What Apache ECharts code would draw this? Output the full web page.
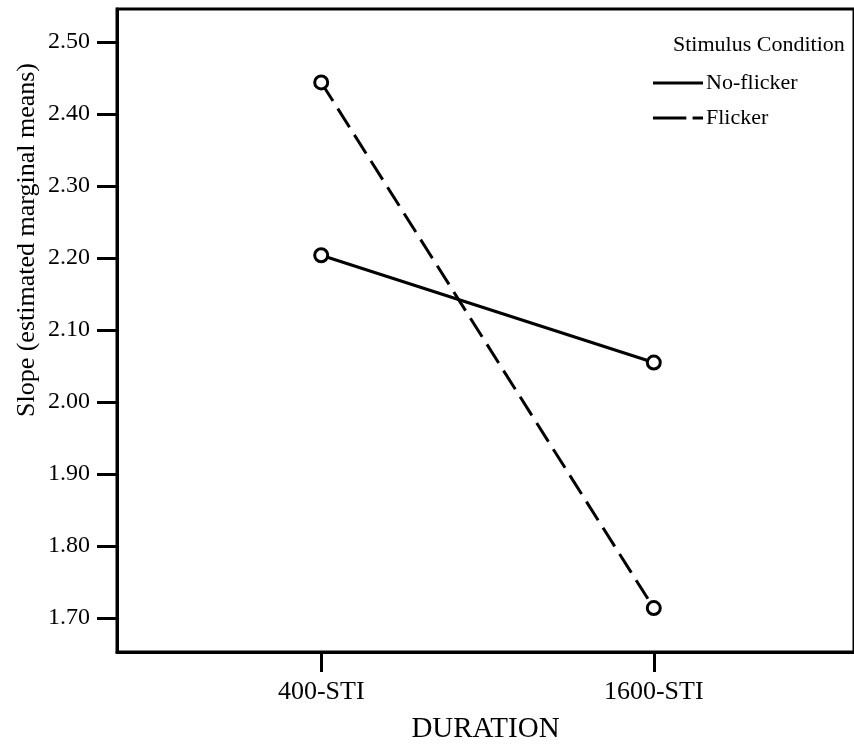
<!DOCTYPE html>
<html>
<head>
<meta charset="utf-8">
<script src="https://cdn.jsdelivr.net/npm/echarts@6/dist/echarts.min.js"></script>
<style>html,body{margin:0;padding:0;background:#fff;}#c{width:854px;height:751px;}</style>
</head>
<body>
<div id="c"></div>
<script>
var categories = ['400-STI', '1600-STI'];
var noFlicker = [2.204, 2.055];
var flicker = [2.444, 1.714];
var yTicks = [1.7, 1.8, 1.9, 2.0, 2.1, 2.2, 2.3, 2.4, 2.5];
var seriesNames = ['No-flicker', 'Flicker'];

var FONT = 'Liberation Serif';
function pts(arr) { return arr.map(function (v, i) { return [i, v]; }); }

var chart = echarts.init(document.getElementById('c'));
chart.setOption({
  backgroundColor: '#fff',
  animation: false,
  title: {
    text: 'Stimulus Condition',
    left: 668, top: 29,
    textStyle: { fontFamily: FONT, fontSize: 22, fontWeight: 'normal', color: '#000' }
  },
  legend: {
    orient: 'vertical',
    left: 653, top: 71, padding: 0,
    itemWidth: 50, itemHeight: 4, itemGap: 11,
    textStyle: { fontFamily: FONT, fontSize: 22, color: '#000', lineHeight: 24, padding: [0, 0, 0, -2] },
    data: [
      { name: seriesNames[0], icon: 'path://M0,0H50V3H0Z' },
      { name: seriesNames[1], icon: 'path://M0,0H32V3H0Z M38,0H48V3H38Z' }
    ],
    itemStyle: { color: '#000', borderWidth: 0 }
  },
  grid: {
    left: 117, top: 9, bottom: 99, right: -3,
    show: true, borderColor: '#000', borderWidth: 3, backgroundColor: '#fff'
  },
  xAxis: {
    type: 'value',
    min: -0.614, max: 1.602,
    name: 'DURATION',
    nameLocation: 'middle', nameGap: 63,
    nameTextStyle: { fontFamily: FONT, fontSize: 29, color: '#000' },
    axisLine: { show: true, onZero: false, lineStyle: { color: '#000', width: 3 } },
    axisTick: { show: true, customValues: [0, 1], length: 20, lineStyle: { color: '#000', width: 3 } },
    axisLabel: {
      customValues: [0, 1], margin: 27,
      formatter: function (v) { return categories[Math.round(v)]; },
      fontFamily: FONT, fontSize: 26, color: '#000'
    },
    splitLine: { show: false }
  },
  yAxis: {
    type: 'value',
    min: 1.653, max: 2.546,
    axisLine: { show: true, onZero: false, lineStyle: { color: '#000', width: 3 } },
    axisTick: { show: true, customValues: yTicks, length: 20, lineStyle: { color: '#000', width: 3 } },
    axisLabel: {
      customValues: yTicks, margin: 27,
      formatter: function (v) { return v.toFixed(2); },
      fontFamily: FONT, fontSize: 24, color: '#000'
    },
    splitLine: { show: false }
  },
  graphic: [{
    type: 'text',
    x: 27, y: 240,
    rotation: Math.PI / 2,
    style: {
      text: 'Slope (estimated marginal means)',
      fontFamily: FONT, fontSize: 26, fill: '#000',
      align: 'center', verticalAlign: 'middle'
    }
  }],
  series: [
    {
      name: seriesNames[0], type: 'line', data: pts(noFlicker),
      symbol: 'circle', symbolSize: 13,
      itemStyle: { color: '#fff', borderColor: '#000', borderWidth: 3 },
      lineStyle: { color: '#000', width: 3 }
    },
    {
      name: seriesNames[1], type: 'line', data: pts(flicker),
      symbol: 'circle', symbolSize: 13,
      itemStyle: { color: '#fff', borderColor: '#000', borderWidth: 3 },
      lineStyle: { color: '#000', width: 3, type: [22, 9] }
    }
  ]
});
</script>
</body>
</html>
